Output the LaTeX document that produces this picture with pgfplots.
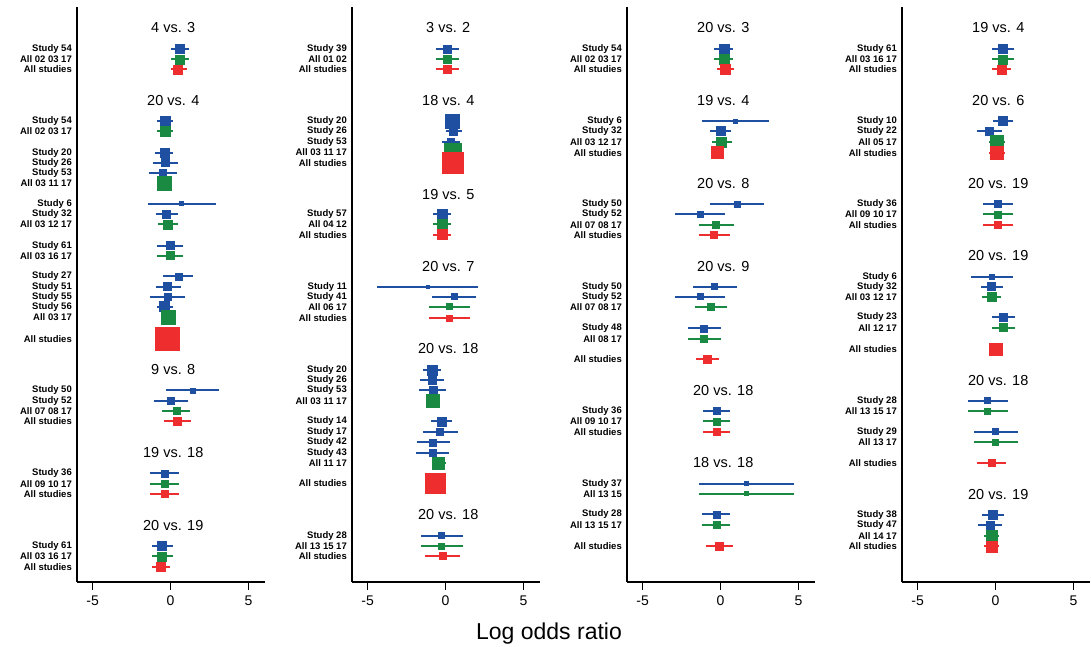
\documentclass[border=0pt]{standalone}
\usepackage{fontspec}
\setmainfont{Liberation Sans}
\usepackage{pgfplots}
\usepackage{pgfplotstable}
\pgfplotsset{compat=1.18}

\definecolor{fpblue}{HTML}{1F4FA0}
\definecolor{fpgreen}{HTML}{1A8A42}
\definecolor{fpred}{HTML}{EE2E2E}

% y: row position (negative, top = -7), m: estimate, lo/hi: CI, s: square side, c: 0 study / 1 pooled / 2 all
\pgfplotstableread{
y m lo hi s c
-49 0.56 0.0 1.16 9 0
-59.3 0.56 0.0 1.16 9 1
-69.3 0.45 0.0 1.03 9 2
-121 -0.34 -0.9 0.17 10 0
-131 -0.34 -0.9 0.17 10 1
-152.7 -0.4 -1.0 0.17 9 0
-162.7 -0.36 -1.16 0.45 8 0
-172.7 -0.51 -1.41 0.43 7 0
-183 -0.41 -0.41 -0.41 13.5 1
-203.7 0.7 -1.48 2.93 4 0
-214 -0.26 -0.94 0.45 8 0
-224.3 -0.19 -0.84 0.49 9 1
-245.7 -0.04 -0.88 0.77 8 0
-255.7 -0.04 -0.88 0.77 8 1
-276.3 0.49 -0.47 1.43 7 0
-286.7 -0.19 -0.96 0.64 8 0
-296.7 -0.21 -1.31 0.92 7 0
-306.7 -0.39 -0.9 0.13 10 0
-317.3 -0.17 -0.17 -0.17 14 1
-338.7 -0.21 -0.21 -0.21 23.5 2
-390.3 1.41 -0.3 3.13 5 0
-400.7 0.0 -1.07 1.09 7 0
-411 0.39 -0.54 1.26 7 1
-421.3 0.43 -0.45 1.31 8 2
-473.3 -0.41 -1.31 0.51 7 0
-483.7 -0.41 -1.31 0.51 7 1
-494 -0.41 -1.31 0.51 7 2
-546 -0.54 -1.22 0.17 9 0
-556.3 -0.54 -1.22 0.17 9 1
-566.7 -0.62 -1.18 -0.02 9 2
}\tabA

\pgfplotstableread{
y m lo hi s c
-49 0.11 -0.6 0.88 8 0
-59.3 0.11 -0.6 0.88 8 1
-69.3 0.11 -0.6 0.88 8 2
-121 0.45 0.45 0.45 14 0
-131 0.47 0.04 1.07 8 0
-141.7 0.34 -0.21 0.94 7 0
-152 0.45 0.45 0.45 17 1
-162.7 0.45 0.45 0.45 21 2
-214 -0.24 -0.79 0.32 10 0
-224.3 -0.24 -0.79 0.32 10 1
-234.7 -0.24 -0.79 0.32 10 2
-286.7 -1.16 -4.37 2.1 3 0
-296.7 0.54 -0.9 1.97 6 0
-306.7 0.24 -1.05 1.54 6 1
-318 0.24 -1.05 1.56 6 2
-370.3 -0.86 -1.43 -0.3 10 0
-380.3 -0.86 -1.65 -0.13 8 0
-390.3 -0.81 -1.69 0.04 8 0
-400.7 -0.86 -0.86 -0.86 13 1
-421.3 -0.26 -0.96 0.43 9 0
-431.7 -0.36 -1.48 0.81 7 0
-442.3 -0.81 -1.86 0.26 7 0
-452.7 -0.84 -1.88 0.21 7 0
-463 -0.49 -0.9 0.0 12.5 1
-483.3 -0.64 -0.64 -0.64 20 2
-535.7 -0.26 -1.58 1.09 6 0
-546 -0.26 -1.58 1.09 6 1
-556 -0.19 -1.31 0.92 7 2
}\tabB

\pgfplotstableread{
y m lo hi s c
-49 0.21 -0.41 0.81 10 0
-59.3 0.21 -0.41 0.81 10 1
-69.3 0.28 -0.26 0.84 10 2
-121 0.94 -1.22 3.13 4 0
-131 -0.02 -0.66 0.66 9 0
-142 0.06 -0.56 0.71 10 1
-152.7 -0.21 -0.21 -0.21 12 2
-204 1.07 -0.66 2.76 6 0
-214.3 -1.33 -2.91 0.28 6 0
-224.7 -0.3 -1.39 0.84 7 1
-235 -0.45 -1.41 0.58 7 2
-286.7 -0.39 -1.78 1.05 6 0
-296.7 -1.33 -2.91 0.28 6 0
-306.7 -0.64 -1.67 0.41 7 1
-328.3 -1.07 -2.1 0.0 7 0
-338.7 -1.07 -2.1 0.0 7 1
-359.3 -0.86 -1.58 -0.09 8 2
-411 -0.28 -1.13 0.62 7 0
-421.3 -0.28 -1.13 0.62 7 1
-432 -0.28 -1.13 0.62 7 2
-483.7 1.65 -1.39 4.73 4 0
-493.7 1.65 -1.39 4.73 4 1
-514.3 -0.28 -1.2 0.62 7 0
-525 -0.28 -1.2 0.62 7 1
-546.3 -0.09 -0.92 0.79 8 2
}\tabC

\pgfplotstableread{
y m lo hi s c
-49 0.45 -0.26 1.2 9 0
-59.3 0.45 -0.26 1.2 9 1
-69.3 0.36 -0.21 0.98 9 2
-121 0.43 -0.19 1.09 9 0
-131 -0.41 -1.18 0.39 8 0
-142 0.09 -0.41 0.6 13 1
-152.7 0.09 -0.41 0.6 13 2
-204 0.11 -0.81 1.11 7 0
-214.3 0.11 -0.81 1.11 7 1
-224.7 0.11 -0.81 1.11 7 2
-276.7 -0.24 -1.56 1.11 5 0
-286.7 -0.26 -0.96 0.45 8 0
-297 -0.26 -0.88 0.34 9 1
-317 0.49 -0.24 1.22 8 0
-327.7 0.49 -0.24 1.22 8 1
-349.3 0.0 0.0 0.0 12.5 2
-400.7 -0.51 -1.8 0.77 6 0
-411 -0.51 -1.8 0.77 6 1
-431.7 0.0 -1.41 1.41 6 0
-442 0.0 -1.41 1.41 6 1
-463 -0.26 -1.2 0.69 7 2
-514.7 -0.19 -0.9 0.51 9 0
-525 -0.36 -1.16 0.39 8 0
-535.7 -0.26 -0.77 0.24 11 1
-546.3 -0.26 -0.77 0.24 11 2
}\tabD

\pgfplotsset{
  panel/.style={
    scale only axis, width=188pt, height=575pt,
    xmin=-6, xmax=6.05, ymin=-582, ymax=-7,
    axis x line*=bottom, axis y line*=left,
    axis line style={line width=2pt, -},
    every outer x axis line/.append style={-},
    every outer y axis line/.append style={-},
    xtick={-5,0,5}, xticklabels={-5,0,5},
    xtick align=outside, ytick align=inside,
    major tick length=8pt,
    x tick style={line width=1.6pt, black},
    y tick style={draw=none},
    xticklabel style={font=\fontsize{14}{14}\selectfont, yshift=-2pt},
    yticklabel style={font=\fontsize{9.5}{10}\selectfont\bfseries, inner xsep=5pt},
    clip=false,
  },
}
\tikzset{ttl/.style={font=\fontsize{14.5}{15}\selectfont}}

\newcommand\fp[3]{%
  \addplot[scatter, only marks, mark=square*, color=#3,
    point meta=\thisrow{c},
    restrict expr to domain={\thisrow{c}}{#2:#2},
    scatter/use mapped color={draw=#3, fill=#3},
    visualization depends on={\thisrow{s}/2 \as \ms},
    scatter/@pre marker code/.append style={/tikz/mark size=\ms},
    error bars/.cd, x dir=both, x explicit, error mark=none,
    error bar style={line width=2.2pt, #3}]
  table[x=m, y=y, x error plus expr=\thisrow{hi}-\thisrow{m},
        x error minus expr=\thisrow{m}-\thisrow{lo}] {#1};
}

\begin{document}
\begin{tikzpicture}
\path[use as bounding box] (0,0) rectangle (1091pt,647pt);

\begin{axis}[panel, at={(77pt,65pt)}, anchor=south west,
  ytick={-49,-59.3,-69.3,-121,-131,-152.7,-162.7,-172.7,-183,-203.7,-214,-224.3,-245.7,-255.7,-276.3,-286.7,-296.7,-306.7,-317.3,-338.7,-390.3,-400.7,-411,-421.3,-473.3,-483.7,-494,-546,-556.3,-566.7},
  yticklabels={Study 54,All 02 03 17,All studies,Study 54,All 02 03 17,Study 20,Study 26,Study 53,All 03 11 17,Study 6,Study 32,All 03 12 17,Study 61,All 03 16 17,Study 27,Study 51,Study 55,Study 56,All 03 17,All studies,Study 50,Study 52,All 07 08 17,All studies,Study 36,All 09 10 17,All studies,Study 61,All 03 16 17,All studies}]
\fp{\tabA}{0}{fpblue}
\fp{\tabA}{1}{fpgreen}
\fp{\tabA}{2}{fpred}
\node[ttl] at (axis cs:0.17,-28) {4 vs. 3};
\node[ttl] at (axis cs:0.17,-100.7) {20 vs. 4};
\node[ttl] at (axis cs:0.17,-370) {9 vs. 8};
\node[ttl] at (axis cs:0.17,-452.7) {19 vs. 18};
\node[ttl] at (axis cs:0.17,-525.3) {20 vs. 19};
\end{axis}

\begin{axis}[panel, at={(352pt,65pt)}, anchor=south west,
  ytick={-49,-59.3,-69.3,-121,-131,-141.7,-152,-162.7,-214,-224.3,-234.7,-286.7,-296.7,-306.7,-318,-370.3,-380.3,-390.3,-400.7,-421.3,-431.7,-442.3,-452.7,-463,-483.3,-535.7,-546,-556},
  yticklabels={Study 39,All 01 02,All studies,Study 20,Study 26,Study 53,All 03 11 17,All studies,Study 57,All 04 12,All studies,Study 11,Study 41,All 06 17,All studies,Study 20,Study 26,Study 53,All 03 11 17,Study 14,Study 17,Study 42,Study 43,All 11 17,All studies,Study 28,All 13 15 17,All studies}]
\fp{\tabB}{0}{fpblue}
\fp{\tabB}{1}{fpgreen}
\fp{\tabB}{2}{fpred}
\node[ttl] at (axis cs:0.17,-28) {3 vs. 2};
\node[ttl] at (axis cs:0.17,-100.7) {18 vs. 4};
\node[ttl] at (axis cs:0.17,-194.3) {19 vs. 5};
\node[ttl] at (axis cs:0.17,-266.7) {20 vs. 7};
\node[ttl] at (axis cs:0.17,-349) {20 vs. 18};
\node[ttl] at (axis cs:0.17,-514.7) {20 vs. 18};
\end{axis}

\begin{axis}[panel, at={(627pt,65pt)}, anchor=south west,
  ytick={-49,-59.3,-69.3,-121,-131,-142,-152.7,-204,-214.3,-224.7,-235,-286.7,-296.7,-306.7,-328.3,-338.7,-359.3,-411,-421.3,-432,-483.7,-493.7,-514.3,-525,-546.3},
  yticklabels={Study 54,All 02 03 17,All studies,Study 6,Study 32,All 03 12 17,All studies,Study 50,Study 52,All 07 08 17,All studies,Study 50,Study 52,All 07 08 17,Study 48,All 08 17,All studies,Study 36,All 09 10 17,All studies,Study 37,All 13 15,Study 28,All 13 15 17,All studies}]
\fp{\tabC}{0}{fpblue}
\fp{\tabC}{1}{fpgreen}
\fp{\tabC}{2}{fpred}
\node[ttl] at (axis cs:0.17,-28) {20 vs. 3};
\node[ttl] at (axis cs:0.17,-100.7) {19 vs. 4};
\node[ttl] at (axis cs:0.17,-183.3) {20 vs. 8};
\node[ttl] at (axis cs:0.17,-266.7) {20 vs. 9};
\node[ttl] at (axis cs:0.17,-390.7) {20 vs. 18};
\node[ttl] at (axis cs:0.17,-463) {18 vs. 18};
\end{axis}

\begin{axis}[panel, at={(902pt,65pt)}, anchor=south west,
  ytick={-49,-59.3,-69.3,-121,-131,-142,-152.7,-204,-214.3,-224.7,-276.7,-286.7,-297,-317,-327.7,-349.3,-400.7,-411,-431.7,-442,-463,-514.7,-525,-535.7,-546.3},
  yticklabels={Study 61,All 03 16 17,All studies,Study 10,Study 22,All 05 17,All studies,Study 36,All 09 10 17,All studies,Study 6,Study 32,All 03 12 17,Study 23,All 12 17,All studies,Study 28,All 13 15 17,Study 29,All 13 17,All studies,Study 38,Study 47,All 14 17,All studies}]
\fp{\tabD}{0}{fpblue}
\fp{\tabD}{1}{fpgreen}
\fp{\tabD}{2}{fpred}
\node[ttl] at (axis cs:0.17,-28) {19 vs. 4};
\node[ttl] at (axis cs:0.17,-100.7) {20 vs. 6};
\node[ttl] at (axis cs:0.17,-183.3) {20 vs. 19};
\node[ttl] at (axis cs:0.17,-256) {20 vs. 19};
\node[ttl] at (axis cs:0.17,-380.7) {20 vs. 18};
\node[ttl] at (axis cs:0.17,-494.3) {20 vs. 19};
\end{axis}

\node[font=\fontsize{23}{24}\selectfont, anchor=base] at (549pt,7pt) {Log odds ratio};
\end{tikzpicture}
\end{document}
